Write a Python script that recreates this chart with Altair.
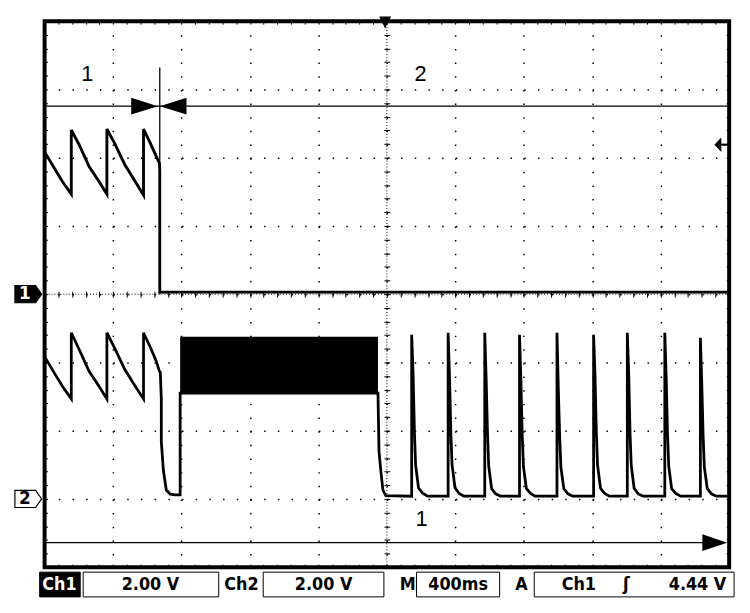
import altair as alt
import pandas as pd

# ---------------- data (time: ms, 400 ms/div; voltage: V, 2 V/div) -------------
ch1_t = [-2000, -1942, -1896, -1844, -1844, -1798, -1740, -1682, -1636, -1636, -1590, -1532,
         -1474, -1422, -1422, -1381, -1347, -1329, -1327, -1327, 2000]
ch1_v = [4.17, 3.68, 3.30, 2.93, 4.81, 4.38, 3.74, 3.30, 2.93, 4.84, 4.41, 3.80,
         3.33, 2.90, 4.84, 4.41, 4.03, 3.83, 3.60, 0.06, 0.06]

ch2_t = [-2000, -1942, -1896, -1844, -1844, -1798, -1740, -1682, -1636, -1636, -1590, -1532,
         -1474, -1422, -1422, -1381, -1347, -1329, -1324, -1318, -1318, -1306, -1289, -1266,
         -1237, -1214, -1208, -1208,
         -52, -46, -35, -23, -6,
         145, 145, 153, 161, 168, 185, 209, 237,
         358, 358, 366, 374, 381, 398, 422, 450,
         572, 572, 580, 588, 595, 612, 636, 664,
         775, 775, 783, 791, 798, 815, 839, 867,
         994, 994, 1002, 1010, 1017, 1034, 1058, 1086,
         1208, 1208, 1216, 1224, 1231, 1248, 1272, 1300,
         1405, 1405, 1413, 1421, 1428, 1445, 1469, 1497,
         1624, 1624, 1632, 1640, 1647, 1664, 1688, 1716,
         1832, 1832, 1840, 1848, 1855, 1872, 1896, 1924, 2000]
ch2_v = [4.17, 3.68, 3.30, 2.93, 4.87, 4.38, 3.74, 3.30, 2.93, 4.87, 4.41, 3.80,
         3.33, 2.93, 4.87, 4.43, 4.03, 3.74, 3.71, 2.93, 1.68, 0.84, 0.26, 0.14,
         0.12, 0.12, 0.12, 3.10,
         3.10, 1.39, 0.81, 0.26, 0.10,
         0.08, 4.81, 3.71, 1.97, 0.99, 0.32, 0.17, 0.08,
         0.08, 4.87, 3.60, 1.90, 1.00, 0.33, 0.16, 0.08,
         0.08, 4.87, 3.55, 1.95, 0.97, 0.30, 0.15, 0.08,
         0.08, 4.81, 3.50, 1.85, 0.95, 0.31, 0.16, 0.08,
         0.08, 4.87, 3.20, 1.80, 0.92, 0.30, 0.15, 0.08,
         0.08, 4.81, 3.65, 1.95, 1.00, 0.32, 0.16, 0.08,
         0.08, 4.87, 3.70, 1.90, 0.98, 0.31, 0.15, 0.08,
         0.08, 4.87, 3.60, 1.92, 0.96, 0.30, 0.16, 0.08,
         0.08, 4.72, 3.40, 1.85, 0.94, 0.31, 0.15, 0.08, 0.08]

# noisy burst on channel 2 (envelope)
burst_t = [-1208, -52]
burst_v = [3.10, 4.75]

# channel settings
ch_offset_div = [0.0, -3.0]     # ground marker positions (div)
volts_per_div = 2.0

# annotations (time ms, position in div)
label_text = ["1", "2", "1"]
label_t = [-1751, 197, 202]
label_d = [3.22, 3.22, -3.30]
cursor_t = -1327
cursor_d = [0.0, 3.32]
hline_d = 2.754
timeline_d = -3.64
trigger_level_d = 2.19

status_text = ["Ch1", "2.00 V", "Ch2", "2.00 V", "M", "400ms", "A", "Ch1", "ʃ", "4.44 V"]

# ---------------- frames ----------------
W, H = 692, 552
xs = alt.Scale(domain=[-2000, 2000], nice=False, zero=False)
ys = alt.Scale(domain=[-4, 4], nice=False, zero=False)

df1 = pd.DataFrame({"t": ch1_t, "v": ch1_v})
df1["d"] = df1["v"] / volts_per_div + ch_offset_div[0]
df1["i"] = range(len(df1))
df2 = pd.DataFrame({"t": ch2_t, "v": ch2_v})
df2["d"] = df2["v"] / volts_per_div + ch_offset_div[1]
df2["i"] = range(len(df2))
burst = pd.DataFrame({"t": [burst_t[0]], "t2": [burst_t[1]],
                      "d": [burst_v[0] / volts_per_div + ch_offset_div[1]],
                      "d2": [burst_v[1] / volts_per_div + ch_offset_div[1]]})

major_t = [-2000 + 400 * k for k in range(11)]
major_d = [-4 + k for k in range(9)]
minor_t = [-2000 + 80 * k for k in range(51)]
minor_d = [round(-4 + 0.2 * k, 2) for k in range(41)]

anchor = pd.DataFrame({"t": [0], "d": [0]})


def axis_layer(xaxis, yaxis):
    return alt.Chart(anchor).mark_point(opacity=0).encode(
        x=alt.X("t:Q", scale=xs, axis=xaxis),
        y=alt.Y("d:Q", scale=ys, axis=yaxis))


def tick_axis(orient, offset, size):
    return alt.Axis(orient=orient, offset=offset, tickSize=size, ticks=True, tickColor="black",
                    tickWidth=1, labels=False, domain=False, grid=False, title=None,
                    values=minor_t if orient in ("top", "bottom") else minor_d)


grid_layer = axis_layer(
    alt.Axis(orient="bottom", values=major_t, grid=True, gridColor="black", gridOpacity=1,
             gridWidth=1.5, gridDash=[1.5, 12.3], ticks=False, labels=False, domain=False, title=None),
    alt.Axis(orient="left", values=major_d, grid=True, gridColor="black", gridOpacity=1,
             gridWidth=1.5, gridDash=[1.5, 12.34], ticks=False, labels=False, domain=False, title=None))
edge1 = axis_layer(tick_axis("bottom", -3, 3), tick_axis("left", -3, 3))
edge2 = axis_layer(tick_axis("top", -3, 3), tick_axis("right", -3, 3))
center = axis_layer(tick_axis("bottom", -(H / 2 + 3), 6), tick_axis("left", -(W / 2 + 3), 6))

centre_v = alt.Chart(anchor).mark_rule(color="black", strokeDash=[1, 2], strokeWidth=1).encode(
    x=alt.X("t:Q", scale=xs, axis=None))
centre_h = alt.Chart(anchor).mark_rule(color="black", strokeDash=[1, 2], strokeWidth=1).encode(
    y=alt.Y("d:Q", scale=ys, axis=None))

trace1 = alt.Chart(df1).mark_line(color="black", strokeWidth=2.9).encode(
    x=alt.X("t:Q", scale=xs, axis=None), y=alt.Y("d:Q", scale=ys, axis=None), order="i:Q")
trace2 = alt.Chart(df2).mark_line(color="black", strokeWidth=2.8).encode(
    x=alt.X("t:Q", scale=xs, axis=None), y=alt.Y("d:Q", scale=ys, axis=None), order="i:Q")
burst_rect = alt.Chart(burst).mark_rect(color="black").encode(
    x=alt.X("t:Q", scale=xs, axis=None), x2="t2:Q",
    y=alt.Y("d:Q", scale=ys, axis=None), y2="d2:Q")

# annotation lines
lines = pd.DataFrame({"t": [-2000, cursor_t, -2000, 1950],
                      "t2": [2000, cursor_t, 1950, 2000],
                      "d": [hline_d, cursor_d[0], timeline_d, trigger_level_d],
                      "d2": [hline_d, cursor_d[1], timeline_d, trigger_level_d],
                      "w": [1.2, 1.3, 1.4, 2.2]})
ann_lines = alt.Chart(lines).mark_rule(color="black").encode(
    x=alt.X("t:Q", scale=xs, axis=None), x2="t2:Q",
    y=alt.Y("d:Q", scale=ys, axis=None), y2="d2:Q",
    strokeWidth=alt.StrokeWidth("w:Q", scale=None, legend=None))


def arrow(t, d, path, size):
    return alt.Chart(pd.DataFrame({"t": [t], "d": [d]})).mark_point(
        shape=path, size=size, filled=True, color="black", opacity=1, strokeWidth=0).encode(
        x=alt.X("t:Q", scale=xs, axis=None), y=alt.Y("d:Q", scale=ys, axis=None))


arr_r = arrow(-1416, hline_d, "M-1,-0.63L1,0L-1,0.63Z", 729)
arr_l = arrow(-1249, hline_d, "M1,-0.63L-1,0L1,0.63Z", 729)
arr_time = arrow(1916, timeline_d, "M-1,-0.68L1,0L-1,0.68Z", 625)
arr_trig = arrow(1934, trigger_level_d, "M-1,0L1,-2.1L1,2.1Z", 49)
arr_top = arrow(-10, 3.98, "M-1,-1L1,-1L0,1Z", 144)

labels = alt.Chart(pd.DataFrame({"s": label_text, "t": label_t, "d": label_d})).mark_text(
    font="Liberation Sans, Arial, sans-serif", fontSize=22, color="black").encode(
    x=alt.X("t:Q", scale=xs, axis=None), y=alt.Y("d:Q", scale=ys, axis=None), text="s:N")

# ground markers on the left
gm = pd.DataFrame({"d": ch_offset_div, "s": ["1", "2"], "fill": ["black", "white"],
                   "tc": ["white", "black"]})
marker_path = "M-1,-0.64L0.55,-0.64L1,0L0.55,0.64L-1,0.64Z"
markers = alt.Chart(gm).mark_point(shape=marker_path, size=729, filled=False, opacity=1,
                                   strokeWidth=1.2, stroke="black").encode(
    x=alt.value(-16.5), y=alt.Y("d:Q", scale=ys, axis=None),
    fill=alt.Fill("fill:N", scale=None, legend=None))
marker_txt = alt.Chart(gm).mark_text(font="DejaVu Sans, sans-serif", fontSize=17,
                                     fontWeight="bold", dx=-2).encode(
    x=alt.value(-18), y=alt.Y("d:Q", scale=ys, axis=None), text="s:N",
    color=alt.Color("tc:N", scale=None, legend=None))

# status bar (pixel layout relative to plot origin)
box_x0 = [-5, 39, 221, 376, 495]
box_x1 = [36, 176, 343, 460, 697]
box_fill = ["black", "white", "white", "white", "white"]
boxes = alt.Chart(pd.DataFrame({"x0": box_x0, "x1": box_x1, "f": box_fill})).mark_rect(
    stroke="black", strokeWidth=1).encode(
    x=alt.X("x0:Q", scale=None), x2="x1:Q", y=alt.value(557), y2=alt.value(582),
    fill=alt.Fill("f:N", scale=None, legend=None))
text_x = [15, 107, 199, 282, 367, 418, 482, 540, 588, 660]
text_c = ["white"] + ["black"] * 9
status = alt.Chart(pd.DataFrame({"s": status_text, "x": text_x, "c": text_c})).mark_text(
    font="DejaVu Sans Condensed, DejaVu Sans, sans-serif", fontSize=18, fontWeight="bold",
    baseline="middle").encode(
    x=alt.X("x:Q", scale=None), y=alt.value(570), text="s:N",
    color=alt.Color("c:N", scale=None, legend=None))

chart = alt.layer(
    grid_layer, edge1, edge2, center, centre_v, centre_h,
    burst_rect, trace1, trace2, ann_lines, arr_r, arr_l, arr_time, arr_trig, arr_top,
    labels, markers, marker_txt, boxes, status
).resolve_axis(x="independent", y="independent").properties(
    width=W, height=H,
    autosize=alt.AutoSizeParams(type="none"),
    padding={"left": 37, "top": 10, "right": 13, "bottom": 43},
    background="white"
).configure_view(stroke="black", strokeWidth=4)

chart.save("out.html", embed_options={"renderer": "svg", "actions": False})
